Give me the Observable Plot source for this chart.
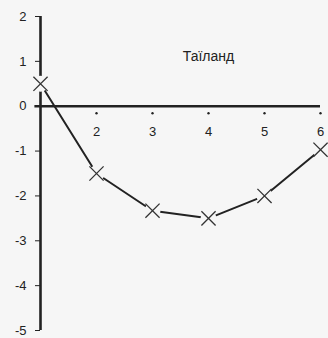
<!DOCTYPE html>
<html><head><meta charset="utf-8">
<script src="https://cdn.jsdelivr.net/npm/d3@7"></script>
<script src="https://cdn.jsdelivr.net/npm/@observablehq/plot@0.6"></script>
<style>
body{margin:0;background:#f6f6f6;font-family:Arial,"Liberation Sans",sans-serif;}
#c{position:relative;width:328px;height:338px;}
</style></head>
<body><div id="c"></div>
<script>
const xs = [1, 2, 3, 4, 5, 6];
const values = [0.5, -1.5, -2.33, -2.5, -2.0, -0.97];
const xTickLabels = [2, 3, 4, 5, 6];
const yTicks = [-5, -4, -3, -2, -1, 0, 1, 2];
const title = "Таїланд";

const data = xs.map((x, i) => ({x, y: values[i]}));
const bg = "#f6f6f6";
const ink = "#222";

const chart = Plot.plot({
  width: 328, height: 338,
  marginLeft: 40, marginRight: 8, marginTop: 16, marginBottom: 8,
  style: {background: bg, fontFamily: "Arial, 'Liberation Sans', sans-serif", fontSize: "13px", color: ink},
  x: {domain: [1, 6], axis: null},
  y: {domain: [-5, 2], axis: null},
  marks: [
    Plot.axisY({ticks: yTicks, tickSize: 5, tickPadding: 9, tickFormat: d => String(d), label: null, stroke: ink, fill: ink, fontSize: 13}),
    Plot.ruleX([1], {y1: -5, y2: 2, stroke: ink, strokeWidth: 2.6}),
    Plot.ruleY([0], {x1: 0.9, x2: 6, stroke: ink, strokeWidth: 2.6}),
    Plot.dot(xTickLabels, {x: d => d, y: () => 0, r: 1.2, fill: ink, stroke: null, dy: 7}),
    Plot.text(xTickLabels, {x: d => d, y: () => 0, text: d => String(d), dy: 26, fontSize: 13, fill: ink}),
    Plot.line(data, {x: "x", y: "y", stroke: ink, strokeWidth: 2}),
    Plot.dot(data, {x: "x", y: "y", r: 8, fill: bg, stroke: null}),
    Plot.dot(data, {x: "x", y: "y", symbol: "times", r: 6.5, stroke: "#333", strokeWidth: 1.3}),
    Plot.text([title], {x: () => 4, y: () => 1.1, text: d => d, fontSize: 14, fill: ink})
  ]
});
document.getElementById("c").appendChild(chart);
</script>
</body></html>
